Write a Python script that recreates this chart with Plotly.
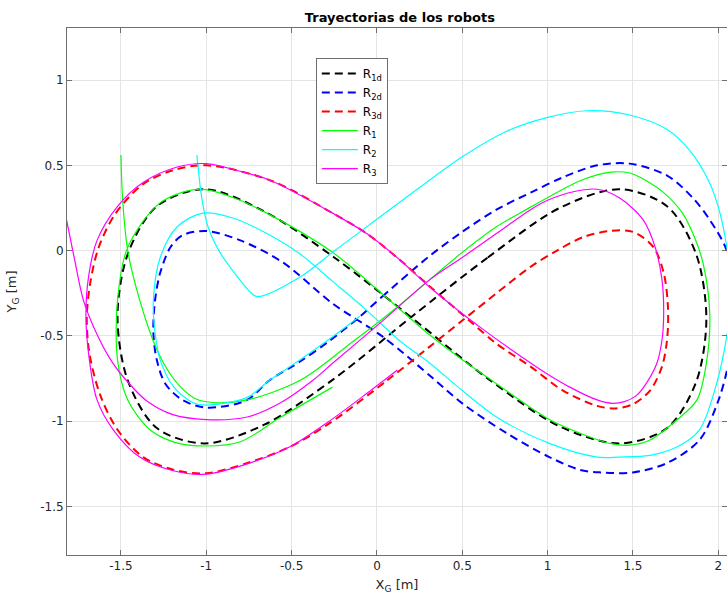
import plotly.graph_objects as go

# ---- data (metres) ----
r1d_x = [0.20, 0.65, 1.07, 1.42, 1.70, 1.87, 1.93, 1.87, 1.70, 1.42, 1.07, 0.65, 0.20,
         -0.25, -0.66, -1.01, -1.29, -1.46, -1.52, -1.46, -1.29, -1.01, -0.66, -0.25, 0.20]
r1d_y = [-0.39, -0.04, 0.25, 0.36, 0.26, -0.02, -0.40, -0.77, -1.04, -1.13, -1.03, -0.75, -0.39,
         -0.04, 0.23, 0.36, 0.26, -0.02, -0.39, -0.76, -1.04, -1.13, -1.02, -0.75, -0.39]

r2d_x = [-0.11, 0.03, 0.31, 0.50, 0.70, 0.90, 1.09, 1.29, 1.48, 1.70, 1.85, 1.95, 2.05, 2.11,
         2.06, 2.00, 1.89, 1.70, 1.50, 1.31, 1.19, 1.01, 0.76, 0.50, 0.33, 0.035, -0.26, -0.55,
         -0.80, -1.00, -1.14, -1.21, -1.27, -1.30, -1.31, -1.29, -1.24, -1.14, -1.00, -0.765,
         -0.627, -0.45, -0.28, -0.11]
r2d_y = [-0.395, -0.27, -0.03, 0.11, 0.24, 0.34, 0.43, 0.50, 0.51, 0.44, 0.31, 0.18, 0.00, -0.33,
         -0.66, -0.88, -1.11, -1.245, -1.30, -1.30, -1.285, -1.21, -1.07, -0.895, -0.75, -0.505,
         -0.31, -0.07, 0.06, 0.115, 0.09, 0.02, -0.13, -0.29, -0.48, -0.64, -0.78, -0.875, -0.92,
         -0.877, -0.758, -0.65, -0.53, -0.395]

r3d_x = [-0.275, 0.06, 0.30, 0.50, 0.70, 0.90, 1.055, 1.21, 1.365, 1.50, 1.62, 1.68, 1.705,
         1.70, 1.67, 1.60, 1.50, 1.40, 1.29, 1.09, 0.90, 0.70, 0.53, 0.31, 0.135, -0.06, -0.26,
         -0.62, -1.00, -1.20, -1.37, -1.53, -1.63, -1.68, -1.70, -1.685, -1.62, -1.52, -1.37,
         -1.19, -1.00, -0.76, -0.51, -0.275]
r3d_y = [-1.01, -0.76, -0.57, -0.41, -0.25, -0.095, 0.00, 0.08, 0.115, 0.11, 0.02, -0.13, -0.33,
         -0.52, -0.68, -0.82, -0.90, -0.925, -0.91, -0.82, -0.68, -0.545, -0.40, -0.21, -0.055,
         0.10, 0.22, 0.41, 0.50, 0.47, 0.39, 0.22, 0.02, -0.19, -0.39, -0.60, -0.85, -1.05, -1.21,
         -1.285, -1.305, -1.245, -1.15, -1.01]

r1_x = [-1.50, -1.49, -1.46, -1.39, -1.29, -1.22, -1.15, -1.06, -0.96, -0.76, -0.45, -0.15,
        0.12, 0.31, 0.50, 0.70, 0.90, 1.09, 1.19, 1.37, 1.48, 1.56, 1.68, 1.79, 1.86, 1.91,
        1.95, 1.93, 1.875, 1.76, 1.60, 1.48, 1.365, 1.19, 1.01, 0.70, 0.50, 0.31, 0.05, -0.26,
        -0.645, -0.84, -1.04, -1.27, -1.46, -1.52, -1.52, -1.46, -1.33, -1.18, -1.00, -0.80,
        -0.57, -0.26]
r1_y = [0.56, 0.30, 0.00, -0.29, -0.58, -0.71, -0.80, -0.87, -0.89, -0.875, -0.76, -0.54,
        -0.33, -0.17, -0.01, 0.14, 0.255, 0.36, 0.41, 0.46, 0.455, 0.42, 0.34, 0.22, 0.08, -0.07,
        -0.37, -0.66, -0.875, -0.99, -1.11, -1.14, -1.13, -1.07, -0.99, -0.78, -0.64, -0.495,
        -0.27, -0.01, 0.22, 0.31, 0.36, 0.28, 0.02, -0.29, -0.64, -0.875, -1.05, -1.125, -1.145,
        -1.12, -0.98, -0.80]

r2_x = [-1.055, -1.025, -0.99, -0.92, -0.82, -0.745, -0.70, -0.45, -0.26, -0.10, 0.06, 0.25,
        0.50, 0.76, 0.995, 1.23, 1.48, 1.70, 1.83, 1.95, 2.01, 2.05, 2.08, 2.05, 1.99, 1.89,
        1.76, 1.60, 1.42, 1.29, 1.01, 0.70, 0.50, 0.31, 0.135, -0.06, -0.26, -0.45, -0.645,
        -0.84, -1.02, -1.17, -1.27, -1.31, -1.30, -1.27, -1.19, -1.08, -1.00, -0.76, -0.63,
        -0.45, -0.28, -0.10]
r2_y = [0.56, 0.30, 0.14, -0.01, -0.15, -0.24, -0.27, -0.155, -0.01, 0.11, 0.23, 0.37,
        0.55, 0.70, 0.78, 0.82, 0.795, 0.71, 0.59, 0.395, 0.22, 0.02, -0.25, -0.50, -0.78,
        -1.05, -1.15, -1.20, -1.21, -1.21, -1.13, -0.975, -0.82, -0.66, -0.53, -0.35, -0.18,
        -0.02, 0.10, 0.19, 0.22, 0.14, -0.04, -0.29, -0.48, -0.64, -0.80, -0.89, -0.905, -0.86,
        -0.76, -0.64, -0.52, -0.385]

r3_x = [-1.835, -1.816, -1.77, -1.72, -1.65, -1.56, -1.46, -1.35, -1.20, -1.00, -0.76, -0.57,
        -0.375, -0.26, 0.035, 0.31, 0.50, 0.70, 0.90, 1.00, 1.15, 1.29, 1.42, 1.56, 1.63, 1.67,
        1.68, 1.67, 1.64, 1.58, 1.52, 1.45, 1.38, 1.29, 1.13, 0.97, 0.80, 0.62, 0.45, 0.31,
        0.135, -0.06, -0.26, -0.62, -0.82, -1.00, -1.17, -1.37, -1.52, -1.64, -1.69, -1.705,
        -1.69, -1.64, -1.545, -1.39, -1.195, -1.00, -0.76, -0.51, -0.28, -0.05, 0.12]
r3_y = [0.26, 0.167, -0.06, -0.29, -0.47, -0.64, -0.77, -0.88, -0.96, -0.99, -0.975, -0.895,
        -0.76, -0.66, -0.41, -0.17, -0.04, 0.10, 0.24, 0.295, 0.345, 0.36, 0.31, 0.18, 0.02,
        -0.17, -0.37, -0.525, -0.66, -0.775, -0.85, -0.885, -0.895, -0.875, -0.80, -0.705,
        -0.59, -0.46, -0.33, -0.215, -0.055, 0.10, 0.22, 0.41, 0.47, 0.51, 0.49, 0.40, 0.26,
        0.06, -0.155, -0.37, -0.60, -0.875, -1.05, -1.21, -1.29, -1.31, -1.25, -1.15, -1.00,
        -0.83, -0.70]

series_names = ["R<sub>1d</sub>", "R<sub>2d</sub>", "R<sub>3d</sub>",
                "R<sub>1</sub>", "R<sub>2</sub>", "R<sub>3</sub>"]

x_ticks = [-1.5, -1, -0.5, 0, 0.5, 1, 1.5, 2]
x_tick_text = ["-1.5", "-1", "-0.5", "0", "0.5", "1", "1.5", "2"]
y_ticks = [-1.5, -1, -0.5, 0, 0.5, 1]
y_tick_text = ["-1.5", "-1", "-0.5", "0", "0.5", "1"]

FONT = "DejaVu Sans"
AX = "#6f6f6f"

fig = go.Figure()

styles = [
    (r1d_x, r1d_y, "#000000", "8px,5px", 2.0),
    (r2d_x, r2d_y, "#0000ff", "8px,5px", 2.0),
    (r3d_x, r3d_y, "#ff0000", "8px,5px", 2.0),
    (r1_x, r1_y, "#00ff00", "solid", 1.2),
    (r2_x, r2_y, "#00ffff", "solid", 1.2),
    (r3_x, r3_y, "#ff00ff", "solid", 1.2),
]
for (xs, ys, col, dash, w), name in zip(styles, series_names):
    fig.add_trace(go.Scatter(
        x=xs, y=ys, mode="lines", name=name, hoverinfo="skip",
        line=dict(color=col, dash=dash, width=w, shape="spline", smoothing=0.9),
    ))

axis_common = dict(
    showgrid=True, gridcolor="#e4e4e4", gridwidth=1,
    zeroline=False, showline=True, linecolor=AX, linewidth=1,
    ticks="inside", ticklen=5, tickcolor=AX, mirror="ticks",
    tickfont=dict(family=FONT, size=12, color="#262626"),
)

fig.update_layout(
    width=727, height=594,
    margin=dict(l=67, r=0, t=28, b=39),
    paper_bgcolor="white", plot_bgcolor="white",
    font=dict(family=FONT, size=12, color="#262626"),
    hovermode=False,
    title=dict(text="<b>Trayectorias de los robots</b>", x=0.55, xanchor="center",
               y=0.971, yanchor="middle", yref="container",
               font=dict(family=FONT, size=13, color="#000000")),
    xaxis=dict(range=[-1.816, 2.051], tickvals=x_ticks, ticktext=x_tick_text,
               title=dict(text="X<sub>G</sub> [m]", standoff=11,
                          font=dict(family=FONT, size=13, color="#262626")),
               **axis_common),
    yaxis=dict(range=[-1.784, 1.305], tickvals=y_ticks, ticktext=y_tick_text,
               title=dict(text="Y<sub>G</sub> [m]", standoff=20,
                          font=dict(family=FONT, size=13, color="#262626")),
               **axis_common),
    legend=dict(x=0.377, y=0.943, xanchor="left", yanchor="top",
                bgcolor="white", bordercolor=AX, borderwidth=1,
                font=dict(family=FONT, size=12, color="#000000"),
                itemwidth=36, tracegroupgap=0),
    showlegend=True,
)

fig.write_html(
    "out.html",
    config={"displayModeBar": False, "staticPlot": True},
    post_script="document.body.style.margin='0px';document.body.style.overflow='hidden';",
)
